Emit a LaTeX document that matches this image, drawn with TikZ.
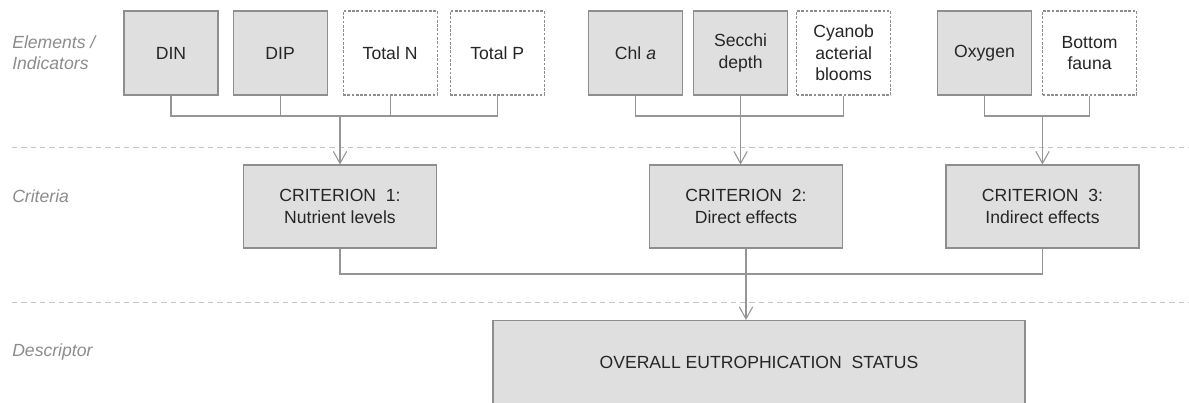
\documentclass[tikz,border=0pt]{standalone}
\usepackage{fontspec}
\setmainfont{Liberation Sans}
\usetikzlibrary{positioning}
\usetikzlibrary{arrows.meta}

\definecolor{boxfill}{HTML}{DFDFDF}
\definecolor{boxline}{HTML}{8E8E8E}
\definecolor{conn}{HTML}{959595}
\definecolor{txt}{HTML}{262626}
\definecolor{lvl}{HTML}{8C8C8C}
\definecolor{sepcol}{HTML}{C4C4C4}
\newcommand{\boxfont}{\fontsize{13.2}{16}\selectfont}
\newcommand{\lvlfont}{\fontsize{13.2}{16}\selectfont\itshape}

\begin{document}
\begin{tikzpicture}[x=0.75pt, y=-0.75pt,
        elem/.style={draw=boxline, fill=boxfill, line width=0.8pt, minimum width=70.5pt, minimum height=63pt, inner sep=1pt, align=center, font=\boxfont, text=txt},
        extra/.style={elem, fill=white, dash pattern=on 2pt off 1.2pt},
        crit/.style={elem, minimum width=144.75pt, minimum height=62.25pt},
        descr/.style={elem, minimum width=399pt, minimum height=63pt},
        level/.style={anchor=west, align=left, inner sep=0pt, font=\lvlfont, text=lvl},
        link/.style={draw=conn, line width=0.8pt},
        arr/.style={link, -{Straight Barb[length=9pt, width=10pt]}},
        sep/.style={draw=sepcol, line width=0.6pt, dash pattern=on 4pt off 3pt}]
            \useasboundingbox (0,0) rectangle (1189,403);

            % levels
            \node[level] (lvl_elem) at (12,52.5) {Elements /\\Indicators};
            \node[level] (lvl_crit) at (12,196) {Criteria};
            \node[level] (lvl_desc) at (12,352) {Descriptor};
            \draw[sep] (12,147) -- (1189,147);
            \draw[sep] (12,302) -- (1189,302);

            % elements / indicators
            \node[elem] (din) at (171,53) {DIN};
            \node[elem, right = 10.5pt of din] (dip) {DIP};
            \node[extra, right = 11.25pt of dip] (totn) {Total N};
            \node[extra, right = 9pt of totn] (totp) {Total P};
            \node[elem] (chl) at (635.5,53) {Chl \textit{a}};
            \node[elem, right = 7.5pt of chl] (secchi) {Secchi\\depth};
            \node[extra, right = 6pt of secchi] (cyano) {Cyanob\\acterial\\blooms};
            \node[elem] (oxygen) at (984.5,53) {Oxygen};
            \node[extra, right = 7.5pt of oxygen] (fauna) {Bottom\\fauna};

            % criteria
            \node[crit] (crit1) at (340,206.5) {CRITERION~~1:\\Nutrient levels};
            \node[crit] (crit2) at (746,206.5) {CRITERION~~2:\\Direct effects};
            \node[crit] (crit3) at (1042.5,206.5) {CRITERION~~3:\\Indirect effects};

            % descriptor
            \node[descr] (overall) at (759,362.5) {OVERALL EUTROPHICATION~~STATUS};

            \coordinate (j_nut) at (340,116);
            \coordinate (j_dir) at (secchi.south |- j_nut);
            \coordinate (j_ind) at (crit3.north |- j_nut);
            \coordinate (j_crit) at (crit2.south |- 0,274);

            \draw[link] (din.south) |- (j_nut) -| (totp.south);
            \draw[link] (dip.south) -- (dip.south |- j_nut);
            \draw[link] (totn.south) -- (totn.south |- j_nut);
            \draw[arr] (j_nut) -- (crit1);

            \draw[link] (chl.south) |- (j_dir) -| (cyano.south);
            \draw[arr] (secchi.south) -- (secchi.south |- crit2.north);

            \draw[link] (oxygen.south) |- (j_ind) -| (fauna.south);
            \draw[arr] (j_ind) -- (crit3);

            \draw[link] (crit1.south) |- (j_crit) -| (crit3.south);
            \draw[arr] (crit2.south) -- (crit2.south |- overall.north);
        \end{tikzpicture}
\end{document}
